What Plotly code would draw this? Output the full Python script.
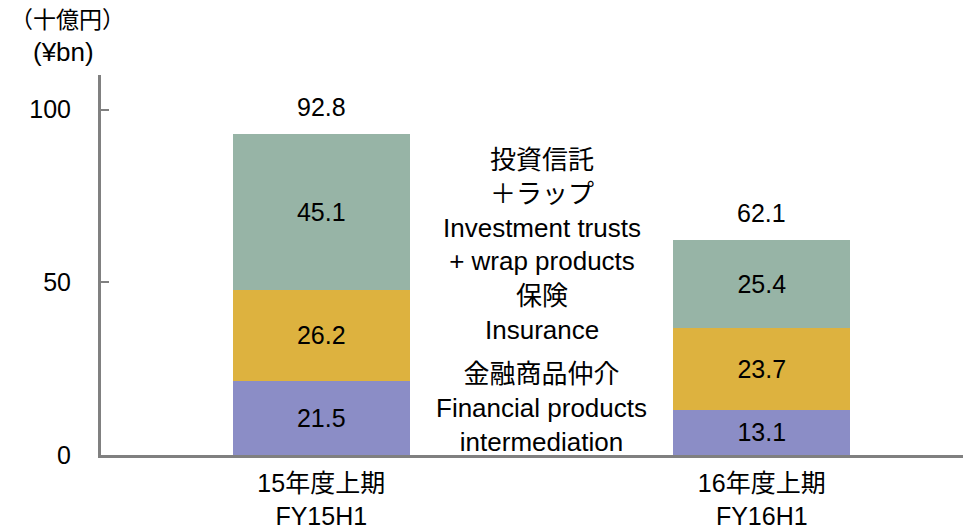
import plotly.graph_objects as go

# periods (x categories), two-line labels
periods = ['15年度上期<br>FY15H1', '16年度上期<br>FY16H1']

# series, bottom to top
financial = [21.5, 13.1]
insurance = [26.2, 23.7]
inv_trusts = [45.1, 25.4]
totals = [92.8, 62.1]

series_names = [
    '金融商品仲介<br>Financial products<br>intermediation',
    '保険<br>Insurance',
    '投資信託<br>＋ラップ<br>Investment trusts<br>+ wrap products',
]
series_colors = ['#8B8DC6', '#DDB23F', '#97B4A6']
series_values = [financial, insurance, inv_trusts]

# y position (data units) of the middle labels, bottom to top
label_y = [13.7, 41.1, 70.9]

FONT = 'Liberation Sans, Arial, Noto Sans CJK JP, sans-serif'
FS = 25
AXIS_GREY = '#808080'

xpos = list(range(len(periods)))

fig = go.Figure()
for name, color, vals in zip(series_names, series_colors, series_values):
    fig.add_trace(go.Bar(
        x=xpos,
        y=vals,
        name=name,
        width=0.402,
        marker=dict(color=color, line=dict(width=0)),
        text=[f'{v:.1f}' for v in vals],
        textposition='inside',
        insidetextanchor='middle',
        textangle=0,
        textfont=dict(size=FS, color='black', family=FONT),
        hoverinfo='name+y',
    ))

# totals above bars
for x, t in zip(xpos, totals):
    fig.add_annotation(
        x=x, y=t, text=f'{t:.1f}', showarrow=False,
        yanchor='middle', yshift=27,
        font=dict(size=FS, color='black', family=FONT),
    )

# series labels in the gap between bars
for name, y in zip(series_names, label_y):
    fig.add_annotation(
        x=0.5, y=y, text=name, showarrow=False,
        xanchor='center', yanchor='middle',
        font=dict(size=26, color='black', family=FONT),
    )

# unit label (two lines, slightly different sizes)
fig.add_annotation(
    xref='paper', yref='paper', x=-0.1069, y=1.0, yshift=55,
    text='（十億円）', showarrow=False,
    xanchor='left', yanchor='middle',
    font=dict(size=23, color='black', family=FONT),
)
fig.add_annotation(
    xref='paper', yref='paper', x=-0.043, y=1.0, yshift=23,
    text='(¥bn)', showarrow=False,
    xanchor='center', yanchor='middle',
    font=dict(size=26, color='black', family=FONT),
)

# the page body adds an 8px margin, so the figure is 8px smaller
fig.update_layout(
    barmode='stack',
    width=963,
    height=522,
    margin=dict(l=93, r=0, t=67, b=75),
    paper_bgcolor='white',
    plot_bgcolor='white',
    showlegend=False,
    font=dict(family=FONT, size=FS, color='black'),
    xaxis=dict(
        range=[-0.5, 1.475],
        tickmode='array',
        tickvals=xpos,
        ticktext=periods,
        showline=True,
        linecolor=AXIS_GREY,
        linewidth=3,
        ticks='',
        showgrid=False,
        zeroline=False,
        automargin=False,
        ticklabelstandoff=4,
        tickfont=dict(size=FS, family=FONT),
    ),
    yaxis=dict(
        range=[0, 110],
        tickvals=[0, 50, 100],
        showline=True,
        linecolor=AXIS_GREY,
        linewidth=3,
        ticks='inside',
        ticklen=8,
        tickwidth=2,
        tickcolor=AXIS_GREY,
        showgrid=False,
        zeroline=False,
        automargin=False,
        ticklabelstandoff=22,
        tickfont=dict(size=FS, family=FONT),
    ),
)

fig.write_html('out.html')
